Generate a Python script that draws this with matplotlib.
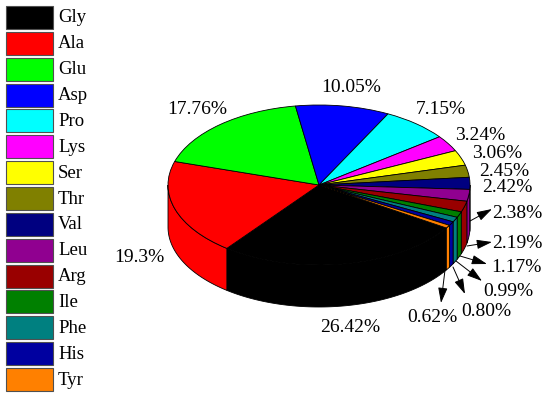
import numpy as np
from matplotlib import pyplot as plt
from matplotlib.patches import Rectangle

# amino acid shares, clockwise from the Gly slice
names = ['Gly', 'Ala', 'Glu', 'Asp', 'Pro', 'Lys', 'Ser', 'Thr', 'Val', 'Leu', 'Arg', 'Ile', 'Phe', 'His', 'Tyr']
values = [26.42, 19.3, 17.76, 10.05, 7.15, 3.24, 3.06, 2.45, 2.42, 2.38, 2.19, 1.17, 0.99, 0.80, 0.62]
labels = ['26.42%', '19.3%', '17.76%', '10.05%', '7.15%', '3.24%', '3.06%', '2.45%', '2.42%', '2.38%', '2.19%',
          '1.17%', '0.99%', '0.80%', '0.62%']
colors = ['#000000', '#ff0000', '#00ff00', '#0000ff', '#00ffff', '#ff00ff', '#ffff00', '#808000', '#000080',
          '#900090', '#990000', '#008000', '#008080', '#0000a0', '#ff8000']

W, H = 550, 398
cx, cy, rx, ry, depth = 319.0, 185.0, 151.0, 80.0, 42.0
start = 327.5
serif = 'Liberation Serif'

# label left edge / vertical middle in pixels
label_pos = [(320, 327), (114, 258), (167, 110), (321, 87), (416, 110), (455, 136), (472, 153), (479, 171),
             (482, 187), (492, 213), (492, 243), (491, 268), (483, 291), (461, 311), (407, 318)]
# small slices get an arrow, tail on the wall and head near the label
arrows = {9: ((470, 221), (492, 209)), 10: ((467, 246), (492, 242)), 11: ((460, 256), (487, 264)),
          12: ((456, 261), (482, 281)), 13: ((453, 267), (465, 294)), 14: ((445, 270), (441, 303))}

fig = plt.figure(figsize=(W / 100, H / 100), dpi=100)
ax = fig.add_axes([0, 0, 1, 1])

# top face: unit pie stretched by the axes limits
ax.pie(values, colors=colors, startangle=start, counterclock=False, radius=1,
       wedgeprops={'edgecolor': 'black', 'linewidth': 0.6})
ax.set_aspect('auto')
ax.set_xlim(-cx / rx, (W - cx) / rx)
ax.set_ylim(-(H - cy) / ry, cy / ry)
ax.axis('off')

# side wall, only the front half of the circle shows
d = depth / ry
edges = start - np.cumsum([0] + values) * 3.6
for i in range(len(values)):
    a0, a1 = edges[i + 1], edges[i]
    for shift in (-360, 0):
        lo, hi = max(a0 + shift, -180), min(a1 + shift, 0)
        if hi <= lo:
            continue
        t = np.radians(np.linspace(lo, hi, 80))
        xs = np.r_[np.cos(t), np.cos(t[::-1])]
        ys = np.r_[np.sin(t), np.sin(t[::-1]) - d]
        ax.fill(xs, ys, facecolor=colors[i], edgecolor='black', linewidth=0.6, zorder=0)

# overlay in pixel coordinates for legend and labels
ov = fig.add_axes([0, 0, 1, 1], facecolor='none')
ov.set_xlim(0, W)
ov.set_ylim(H, 0)
ov.axis('off')

for i, name in enumerate(names):
    y = 6 + i * 25.86
    ov.add_patch(Rectangle((6, y), 47, 23, facecolor=colors[i], edgecolor='#505050', linewidth=0.8))
    ov.text(58, y + 12, name, family=serif, fontsize=13.5, va='center', ha='left', color='black')

for i, lab in enumerate(labels):
    ov.text(label_pos[i][0], label_pos[i][1], lab, family=serif, fontsize=14, va='center', ha='left', color='black')

for i, (tail, head) in arrows.items():
    ov.annotate('', xy=head, xytext=tail,
                arrowprops={'arrowstyle': '-|>,head_length=0.85,head_width=0.26', 'color': 'black', 'lw': 0.7,
                            'mutation_scale': 11, 'shrinkA': 0, 'shrinkB': 0})

fig.savefig('out.png', dpi=100)
